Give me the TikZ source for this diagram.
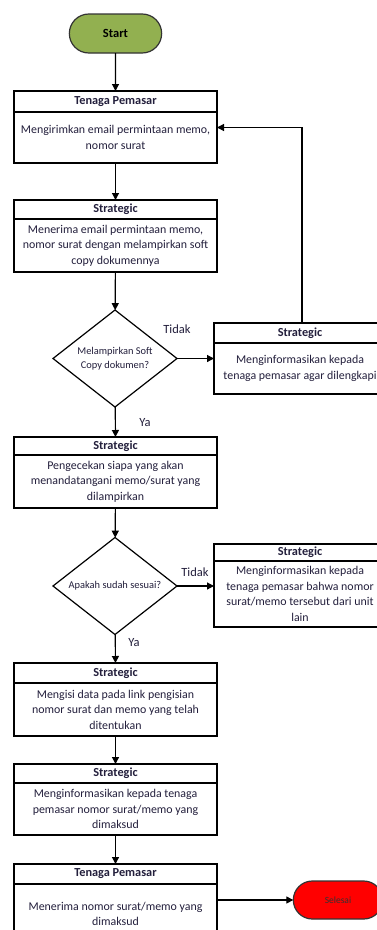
\documentclass[tikz,border=0pt]{standalone}
\usepackage{fontspec}
\setmainfont{Carlito}
\usetikzlibrary{positioning,shapes.geometric,shapes.misc,arrows.meta}

\definecolor{startgreen}{RGB}{146,176,80}
\definecolor{endred}{RGB}{255,0,0}
\definecolor{txtdark}{RGB}{35,31,60}

\tikzset{
    line/.style={line width=1.2pt},
    arr/.style={line, -{Triangle[length=7pt,width=7pt]}},
    term/.style={rounded rectangle, draw=black!80, line, outer sep=0pt},
    head/.style={draw, line, outer sep=0pt, inner sep=0pt, minimum width=203,
        font=\bfseries\fontsize{12.3}{14}\selectfont, text=txtdark},
    body/.style={draw, line, outer sep=0pt, inner sep=0pt, minimum width=203,
        align=center, font=\fontsize{11.9}{15.5}\selectfont, text=txtdark},
    choice/.style={diamond, draw, line, outer sep=0pt, inner sep=0pt, aspect=1.28,
        minimum width=124, minimum height=97, align=center,
        font=\fontsize{10.4}{14}\selectfont, text=txtdark},
    lbl/.style={font=\fontsize{12.5}{14}\selectfont, text=txtdark}
}

\begin{document}
\begin{tikzpicture}[x=1pt,y=-1pt]
    \useasboundingbox[fill=white] (0,0) rectangle (377,930);

    \node [term, fill=startgreen, minimum width=99, minimum height=39,
        font=\bfseries\fontsize{12.5}{14}\selectfont] (start) at (115.5,33.5) {Start};

    \node [head, minimum height=21] (h1) at (115.5,101.5) {Tenaga Pemasar};
    \node [body, minimum height=51, below=0pt of h1] (b1)
        {Mengirimkan email permintaan memo,\\nomor surat};

    \node [head, minimum height=19] (h2) at (115.5,209.5) {Strategic};
    \node [body, minimum height=53, below=0pt of h2] (b2)
        {Menerima email permintaan memo,\\nomor surat dengan melampirkan soft\\copy dokumennya};

    \node [choice] (d1) at (115,358.5) {Melampirkan Soft\\Copy dokumen?};

    \node [head, minimum width=172, minimum height=20] (r1h) at (300,333) {Strategic};
    \node [body, minimum width=172, minimum height=51, below=0pt of r1h] (r1b)
        {Menginformasikan kepada\\tenaga pemasar agar dilengkapi};

    \node [head, minimum height=18] (h3) at (115.5,446) {Strategic};
    \node [body, minimum height=53, below=0pt of h3] (b3)
        {Pengecekan siapa yang akan\\menandatangani memo/surat yang\\dilampirkan};

    \node [choice] (d2) at (115,586) {Apakah sudah sesuai?};

    \node [head, minimum width=172, minimum height=17] (r2h) at (300,552.5) {Strategic};
    \node [body, minimum width=172, minimum height=66, below=0pt of r2h] (r2b)
        {Menginformasikan kepada\\tenaga pemasar bahwa nomor\\surat/memo tersebut dari unit\\lain};

    \node [head, minimum height=20] (h4) at (115.5,673) {Strategic};
    \node [body, minimum height=53, below=0pt of h4] (b4)
        {Mengisi data pada link pengisian\\nomor surat dan memo yang telah\\ditentukan};

    \node [head, minimum height=19] (h5) at (115.5,773.5) {Strategic};
    \node [body, minimum height=52, below=0pt of h5] (b5)
        {Menginformasikan kepada tenaga\\pemasar nomor surat/memo yang\\dimaksud};

    \node [head, minimum height=20] (h6) at (115.5,874) {Tenaga Pemasar};
    \node [body, minimum height=60, below=0pt of h6] (b6)
        {Menerima nomor surat/memo yang\\dimaksud};

    \node [term, fill=endred, minimum width=96, minimum height=38,
        font=\fontsize{9.5}{11}\selectfont, text=black!80] (sel) at (338,900) {Selesai};

    % labels
    \node [lbl] (tidak1) at (177,329) {Tidak};
    \node [lbl] (ya1) at (145,423) {Ya};
    \node [lbl] (tidak2) at (195,572) {Tidak};
    \node [lbl] (ya2) at (134,643) {Ya};

    % connectors
    \draw [arr] (start) -- (h1);
    \draw [arr] (b1) -- (h2);
    \draw [arr] (b2) -- (d1);
    \draw [arr] (d1.east) -- (d1.east -| r1b.west);
    \draw [arr] ([xshift=2pt]r1h.north) |- ([yshift=10pt]b1.east);
    \draw [arr] (d1) -- (h3);
    \draw [arr] (b3) -- (d2);
    \draw [arr] (d2.east) -- (d2.east -| r2b.west);
    \draw [arr] (d2) -- (h4);
    \draw [arr] (b4) -- (h5);
    \draw [arr] (b5) -- (h6);
    \draw [arr] (sel.west -| b6.east) -- (sel.west);
\end{tikzpicture}
\end{document}
